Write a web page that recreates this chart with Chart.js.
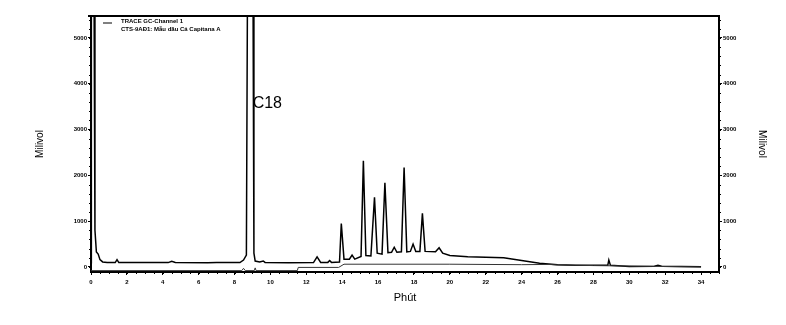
<!DOCTYPE html>
<html>
<head>
<meta charset="utf-8">
<script src="https://cdn.jsdelivr.net/npm/chart.js@4/dist/chart.umd.min.js"></script>
<style>
  html, body { margin:0; padding:0; background:#fff; }
  canvas { display:block; }
</style>
</head>
<body>
<canvas id="gc" width="786" height="325"></canvas>
<script>
// chromatogram data (time in minutes, signal in mV)
const sampleTimes = [0.00, 0.02, 0.17, 0.22, 0.30, 0.40, 0.50, 0.65, 0.90, 1.35, 1.45, 1.55, 4.30, 4.50, 4.70, 6.50, 7.00,
  8.30, 8.50, 8.66, 8.72, 8.87, 9.03, 9.08, 9.15, 9.40, 9.60, 9.70, 11.0, 12.4, 12.6, 12.8, 13.2, 13.3, 13.4,
  13.85, 13.95, 14.1, 14.4, 14.55, 14.7, 15.05, 15.18, 15.32, 15.6, 15.8, 15.95, 16.22, 16.38, 16.55, 16.75, 16.9, 17.05,
  17.3, 17.45, 17.6, 17.8, 17.95, 18.1, 18.33, 18.47, 18.62, 19.2, 19.4, 19.6, 20, 21, 22, 23, 24, 25, 26, 27, 28,
  28.8, 28.86, 28.95, 30, 31.4, 31.6, 31.8, 34.0];
const sampleSignal = [90, 6000, 6000, 800, 330, 280, 160, 110, 95, 95, 160, 95, 95, 125, 100, 90, 95,
  95, 150, 260, 6000, 7000, 6000, 300, 130, 110, 130, 100, 90, 95, 220, 100, 100, 140, 100,
  110, 950, 170, 170, 260, 170, 230, 2320, 250, 240, 1520, 300, 280, 1840, 310, 320, 430, 320,
  330, 2170, 330, 340, 500, 340, 340, 1170, 340, 330, 420, 300, 250, 225, 210, 200, 140, 80, 50, 40, 35,
  35, 150, 35, 12, 15, 35, 15, 5];

const blankTimes = [0.0, 8.4, 8.5, 8.6, 9.1, 9.15, 9.2, 11.5, 11.55, 13.8, 14.1, 20, 24, 25.5, 26, 28, 34];
const blankSignal = [-80, -80, -30, -80, -80, -20, -80, -80, -10, -10, 60, 60, 50, 55, 45, 30, 0];

const xTicks = [0, 2, 4, 6, 8, 10, 12, 14, 16, 18, 20, 22, 24, 26, 28, 30, 32, 34];
const yTicks = [0, 1000, 2000, 3000, 4000, 5000];

const legendLines = ['TRACE GC-Channel 1', 'CTS-9AĐ1: Mẫu dầu Cá Capitana A'];
const peakLabel = { text: 'C18', x: 9.01, y: 3560 };

const toPoints = (ts, vs) => ts.map((t, i) => ({ x: t, y: vs[i] }));

const tickFont = { family: 'Liberation Sans', size: 6, weight: 'bold' };

function yAxis(pos, width, titlePad){
  return {
    type: 'linear', position: pos, min: -110, max: 5480,
    afterBuildTicks: s => { s.ticks = yTicks.map(v => ({ value: v })); },
    afterFit: s => { s.width = width; },
    ticks: { font: tickFont, color: '#000', padding: 1, callback: v => String(v) },
    grid: { drawOnChartArea: false, tickLength: 3, color: '#000', lineWidth: 1 },
    border: { color: '#000', width: 2 },
    title: { display: true, text: 'Milivol', color: '#000', font: { family: 'Liberation Sans', size: 10 }, padding: { top: titlePad, bottom: 0 } }
  };
}

// minor ticks, top frame line, legend and peak label
const extras = {
  id: 'extras',
  afterDraw(chart){
    const ctx = chart.ctx, a = chart.chartArea;
    const x = chart.scales.x, y = chart.scales.y;
    ctx.save();
    ctx.strokeStyle = '#000';
    ctx.lineWidth = 1;
    ctx.beginPath();
    for(let v = 0; v <= 5400; v += 200){
      const py = Math.round(y.getPixelForValue(v)) + 0.5;
      ctx.moveTo(a.left - 2, py); ctx.lineTo(a.left, py);
      ctx.moveTo(a.right, py); ctx.lineTo(a.right + 2, py);
    }
    for(let t = 0; t <= 35; t += 0.5){
      const px = Math.round(x.getPixelForValue(t)) + 0.5;
      ctx.moveTo(px, a.bottom); ctx.lineTo(px, a.bottom + 2);
    }
    ctx.stroke();
    ctx.lineWidth = 2;
    ctx.beginPath();
    ctx.moveTo(a.left - 3, a.top); ctx.lineTo(a.right + 1, a.top);
    ctx.stroke();

    // legend
    ctx.lineWidth = 1;
    ctx.beginPath();
    ctx.moveTo(a.left + 12, a.top + 7); ctx.lineTo(a.left + 21, a.top + 7);
    ctx.stroke();
    ctx.fillStyle = '#000';
    ctx.font = 'bold 6px "Liberation Sans"';
    ctx.textBaseline = 'middle';
    legendLines.forEach((s, i) => ctx.fillText(s, a.left + 30, a.top + 5 + i * 8));

    // peak label
    ctx.font = '16px "Liberation Sans"';
    ctx.fillText(peakLabel.text, x.getPixelForValue(peakLabel.x), y.getPixelForValue(peakLabel.y));
    ctx.restore();
  }
};

new Chart(document.getElementById('gc'), {
  type: 'line',
  data: {
    datasets: [
      { label: 'blank', data: toPoints(blankTimes, blankSignal), borderColor: '#333', borderWidth: 1, pointRadius: 0, tension: 0, yAxisID: 'y' },
      { label: legendLines[0], data: toPoints(sampleTimes, sampleSignal), borderColor: '#000', borderWidth: 1.5, pointRadius: 0, tension: 0, yAxisID: 'y' }
    ]
  },
  options: {
    responsive: false, animation: false, devicePixelRatio: 1,
    layout: { padding: { top: 16, left: 0, right: 0, bottom: 0 } },
    plugins: { legend: { display: false }, tooltip: { enabled: false } },
    scales: {
      x: {
        type: 'linear', min: 0, max: 35,
        afterBuildTicks: s => { s.ticks = xTicks.map(v => ({ value: v })); },
        afterFit: s => { s.height = 53; },
        ticks: { font: tickFont, color: '#000', padding: 4, maxRotation: 0, callback: v => String(v) },
        grid: { drawOnChartArea: false, tickLength: 3, color: '#000' },
        border: { color: '#000', width: 2 },
        title: { display: true, text: 'Phút', color: '#000', font: { family: 'Liberation Sans', size: 11 }, padding: { top: 0, bottom: 20 } }
      },
      y: yAxis('left', 91, 34),
      y2: yAxis('right', 67, 18)
    }
  },
  plugins: [extras]
});
</script>
</body>
</html>
